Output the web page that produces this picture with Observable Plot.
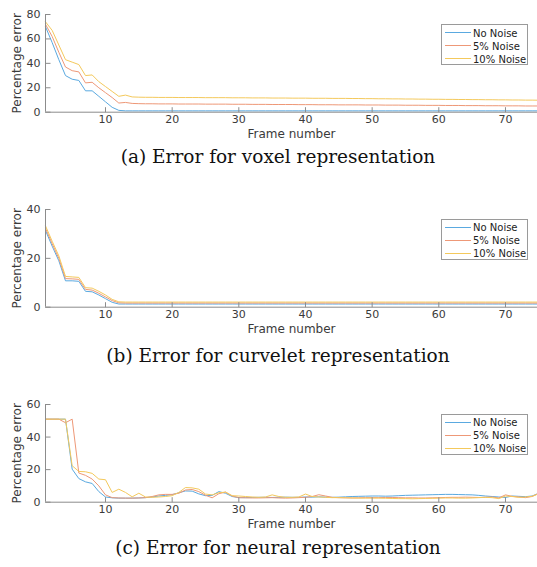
<!DOCTYPE html>
<html><head><meta charset="utf-8">
<script src="https://cdn.jsdelivr.net/npm/d3@7"></script>
<script src="https://cdn.jsdelivr.net/npm/@observablehq/plot@0.6"></script>
<style>
body{margin:0;background:#fff;width:537px;height:567px;position:relative;overflow:hidden;font-family:"DejaVu Sans",sans-serif}
.panel{position:absolute;left:0;width:537px;height:145px}
.panel svg{position:absolute;left:0;top:0}
.caption{position:absolute;left:0;width:556px;text-align:center;font-family:"DejaVu Serif",serif;font-size:18.5px;color:#111;line-height:20px;white-space:nowrap}
.legend{position:absolute;left:441px;top:24px;width:87px;height:41px;border:1px solid #9a9a9a;background:#fff;font-size:10px;color:#222;box-sizing:border-box}
.legend .row{position:absolute;left:3px;height:12px;line-height:12px;white-space:nowrap}
.legend .sw{display:inline-block;width:26px;height:0;border-top:1px solid;vertical-align:middle;margin-right:2px;position:relative;top:-1px}
</style></head><body>
<script>
const seriesNames = ["No Noise", "5% Noise", "10% Noise"];
const seriesColors = ["#5aa9e0", "#ee9877", "#f4c95c"];
const xTicks = [10, 20, 30, 40, 50, 60, 70];

// (a) voxel
const yTicksA = [0, 20, 40, 60, 80];
const noNoiseA = [70,57,43,30,27,26,17.5,17.5,13,8.5,
  4,1.5,1.1,1.1,1.1,1.1,1.1,1.1,1.1,1.1,
  1.1,1.1,1.1,1.1,1.1,1.1,1.1,1.1,1.1,1.1,
  1.1,1.1,1.1,1.1,1.1,1.1,1.1,1.1,1.1,1.1,
  1.1,1.1,1.1,1.1,1.1,1.1,1.1,1.1,1.1,1.1,
  1.1,1.1,1.1,1.1,1.1,1.1,1.1,1.1,1.1,1.1,
  1.1,1.1,1.1,1.1,1.1,1.1,1.1,1.1,1.1,1.1,
  1.1,1.1,1.1,1.1,1.1];
const noise5A = [72,62,49,37,34,33,24,24.5,20,16,
  12,7.5,8,7.2,7,6.9,6.9,6.8,6.8,6.8,
  6.7,6.7,6.7,6.7,6.6,6.6,6.6,6.6,6.5,6.5,
  6.5,6.4,6.4,6.4,6.3,6.3,6.3,6.3,6.2,6.2,
  6.2,6.1,6.1,6.1,6.0,6.0,6.0,6.0,5.9,5.9,
  5.9,5.8,5.8,5.8,5.7,5.7,5.7,5.6,5.6,5.6,
  5.5,5.5,5.5,5.4,5.4,5.4,5.3,5.3,5.3,5.2,
  5.2,5.2,5.1,5.1,5.1];
const noise10A = [74,67,55,43,41,39,30,30.5,25,21,
  17,13,14,12.5,12.3,12.2,12.2,12.1,12.1,12.1,
  12.0,12.0,12.0,12.0,11.9,11.9,11.9,11.9,11.8,11.8,
  11.8,11.7,11.7,11.7,11.6,11.6,11.6,11.5,11.5,11.5,
  11.4,11.4,11.4,11.3,11.3,11.3,11.2,11.2,11.1,11.1,
  11.0,11.0,10.9,10.9,10.8,10.8,10.7,10.7,10.6,10.6,
  10.5,10.5,10.4,10.4,10.3,10.3,10.2,10.2,10.1,10.1,
  10.0,10.0,9.9,9.9,9.8];

// (b) curvelet
const yTicksB = [0, 20, 40];
const noNoiseB = [31.4,25,19,10.8,10.8,10.6,6.5,6.3,5,3.5,
  2,1.3,1.3,1.3,1.3,1.3,1.3,1.3,1.3,1.3,
  1.3,1.3,1.3,1.3,1.3,1.3,1.3,1.3,1.3,1.3,
  1.3,1.3,1.3,1.3,1.3,1.3,1.3,1.3,1.3,1.3,
  1.3,1.3,1.3,1.3,1.3,1.3,1.3,1.3,1.3,1.3,
  1.3,1.3,1.3,1.3,1.3,1.3,1.3,1.3,1.3,1.3,
  1.3,1.3,1.3,1.3,1.3,1.3,1.3,1.3,1.3,1.3,
  1.3,1.3,1.3,1.3,1.3];
const noise5B = [32.3,26,20,11.7,11.6,11.4,7.3,7,5.7,4.2,
  2.7,1.8,1.7,1.7,1.7,1.7,1.7,1.7,1.7,1.7,
  1.7,1.7,1.7,1.7,1.7,1.7,1.7,1.7,1.7,1.7,
  1.7,1.7,1.7,1.7,1.7,1.7,1.7,1.7,1.7,1.7,
  1.7,1.7,1.7,1.7,1.7,1.7,1.7,1.7,1.7,1.7,
  1.7,1.7,1.7,1.7,1.7,1.7,1.7,1.7,1.7,1.7,
  1.7,1.7,1.7,1.7,1.7,1.7,1.7,1.7,1.7,1.7,
  1.7,1.7,1.7,1.7,1.7];
const noise10B = [33.3,27,21,12.6,12.4,12.2,8,7.8,6.5,5,
  3.2,2.2,2.1,2.1,2.1,2.1,2.1,2.1,2.1,2.1,
  2.1,2.1,2.1,2.1,2.1,2.1,2.1,2.1,2.1,2.1,
  2.1,2.1,2.1,2.1,2.1,2.1,2.1,2.1,2.1,2.1,
  2.1,2.1,2.1,2.1,2.1,2.1,2.1,2.1,2.1,2.1,
  2.1,2.1,2.1,2.1,2.1,2.1,2.1,2.1,2.1,2.1,
  2.1,2.1,2.1,2.1,2.1,2.1,2.1,2.1,2.1,2.1,
  2.1,2.1,2.1,2.1,2.1];

// (c) neural
const yTicksC = [0, 20, 40, 60];
const noNoiseC = [51,51,51,51,20.3,14.5,12.5,11.5,6.5,3.2,
  2.7,2.5,2.5,2.5,2.6,2.8,3.2,3.8,4.2,4.6,
  5.8,6.9,6.8,5.1,4,4.2,6.5,5.5,3.5,2.8,
  2.8,2.9,3,3,2.9,3,3.1,3,3,3.2,
  3.1,3.3,3.1,3,3.1,3.3,3.5,3.6,3.7,3.8,
  3.8,3.7,3.8,4,4.2,4.3,4.4,4.5,4.6,4.7,
  4.8,4.8,4.7,4.6,4.5,4.2,3.8,3.5,3.2,2.9,
  3.8,3.6,3.4,3.8,5.5];
const noise5C = [51,51,51,48.8,51,17.9,16.5,14.2,10,4.5,
  2.8,2.6,2.5,2.5,2.6,2.8,3.5,4.5,4.8,4.8,
  5.5,7.5,7.8,6.5,4.3,2.7,5.2,6.2,3.8,2.8,
  2.7,2.6,2.6,2.7,2.8,2.6,2.5,2.6,2.8,3.0,
  3.5,4.6,3.8,3.0,2.8,2.7,2.6,2.7,2.8,2.8,
  2.8,2.9,2.9,2.8,2.7,2.7,2.6,2.6,2.7,2.8,
  2.9,3.0,3.0,3.1,3.0,2.9,3.0,3.2,2.6,4.5,
  3.6,3.2,2.8,3.5,5.5];
const noise10C = [51,51,51,51,22.4,18.9,18.7,17.7,14.2,13.8,
  6,8,6,3.3,5.5,3.2,3,3.2,3.5,4,
  6,9,8.8,8,5,4.5,5.8,6.2,4,3.8,
  3.5,3.2,3.0,3.2,4.5,3.5,3.0,3.0,3.2,5.0,
  3.5,3.2,3.0,2.8,2.8,2.7,2.6,2.5,2.5,2.5,
  2.5,2.4,2.3,2.2,2.2,2.1,2.2,2.3,2.4,2.5,
  2.6,2.6,2.5,2.5,2.6,2.8,3.0,2.8,2.2,3.8,
  3.5,3.0,3.2,3.6,5.2];

const axisColor = "#8c8c8c";
const textColor = "#3a3a3a";
const tickUp = {draw(ctx) { ctx.moveTo(0, 0); ctx.lineTo(0, -5); }};
const tickRight = {draw(ctx) { ctx.moveTo(0, 0); ctx.lineTo(5, 0); }};

function makePanel(top, yMax, yTicks, series, caption, captionTop) {
  const data = [];
  series.forEach((vals, s) => vals.forEach((v, i) => data.push({frame: i + 1, value: v, series: seriesNames[s]})));
  const chart = Plot.plot({
    width: 537, height: 145,
    marginTop: 14, marginBottom: 33.3, marginLeft: 45, marginRight: 0,
    x: {domain: [1, 75], range: [45, 538.3]},
    y: {domain: [0, yMax]},
    color: {domain: seriesNames, range: seriesColors},
    style: {fontFamily: "DejaVu Sans", fontSize: "11px", color: textColor, background: "transparent"},
    marks: [
      Plot.line(data, {x: "frame", y: "value", z: "series", stroke: "series", strokeWidth: 1}),
      Plot.ruleX([1], {stroke: axisColor}),
      Plot.ruleY([0], {stroke: axisColor}),
      Plot.dot(xTicks, {x: d => d, frameAnchor: "bottom", symbol: tickUp, stroke: axisColor, fill: "none", strokeWidth: 1}),
      Plot.dot(yTicks, {y: d => d, frameAnchor: "left", symbol: tickRight, stroke: axisColor, fill: "none", strokeWidth: 1}),
      Plot.axisX(xTicks, {tickSize: 0, tickPadding: 3, label: null, fill: textColor, fontSize: 11}),
      Plot.axisY(yTicks, {tickSize: 0, tickPadding: 5, label: null, fill: textColor, fontSize: 11}),
      Plot.text(["Frame number"], {frameAnchor: "bottom", dy: 25.3, fontSize: 12, fill: textColor}),
      Plot.text(["Percentage error"], {frameAnchor: "left", textAnchor: "middle", dx: -28.5, rotate: -90, fontSize: 12, fill: textColor})
    ]
  });
  const div = document.createElement("div");
  div.className = "panel";
  div.style.top = top + "px";
  div.appendChild(chart);
  const leg = document.createElement("div");
  leg.className = "legend";
  seriesNames.forEach((n, i) => {
    const r = document.createElement("div");
    r.className = "row";
    r.style.top = (2.5 + i * 13) + "px";
    r.innerHTML = `<span class="sw" style="border-color:${seriesColors[i]}"></span>${n}`;
    leg.appendChild(r);
  });
  div.appendChild(leg);
  document.body.appendChild(div);
  const cap = document.createElement("div");
  cap.className = "caption";
  cap.style.top = captionTop + "px";
  cap.textContent = caption;
  document.body.appendChild(cap);
}

makePanel(0, 80, yTicksA, [noNoiseA, noise5A, noise10A], "(a) Error for voxel representation", 147);
makePanel(194.5, 40, yTicksB, [noNoiseB, noise5B, noise10B], "(b) Error for curvelet representation", 346);
makePanel(389.5, 60, yTicksC, [noNoiseC, noise5C, noise10C], "(c) Error for neural representation", 538);
</script>
</body></html>
